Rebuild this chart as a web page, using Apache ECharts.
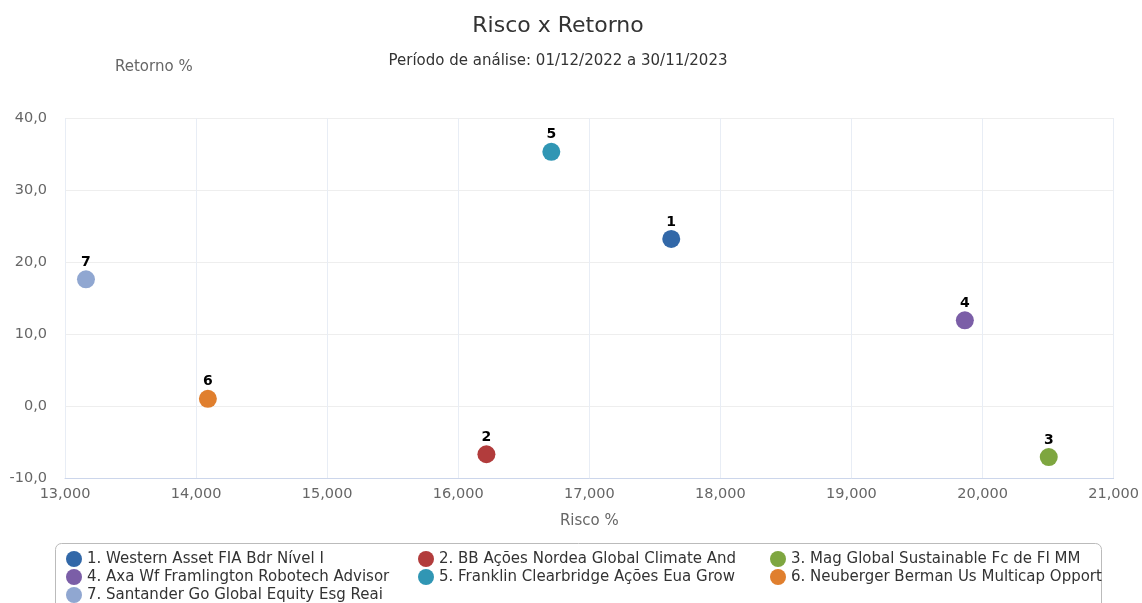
<!DOCTYPE html>
<html>
<head>
<meta charset="utf-8">
<script src="https://cdn.jsdelivr.net/npm/echarts@6/dist/echarts.min.js"></script>
<style>
html,body{margin:0;padding:0;background:#fff;}
#chart{width:1142px;height:603px;}
</style>
</head>
<body>
<div id="chart"></div>
<script>
const fundNames = [
  "1. Western Asset FIA Bdr Nível I",
  "2. BB Ações Nordea Global Climate And",
  "3. Mag Global Sustainable Fc de FI MM",
  "4. Axa Wf Framlington Robotech Advisor",
  "5. Franklin Clearbridge Ações Eua Grow",
  "6. Neuberger Berman Us Multicap Opport",
  "7. Santander Go Global Equity Esg Reai"
];
const pointLabels = ["1", "2", "3", "4", "5", "6", "7"];
const riscoValues = [17625, 16215, 20505, 19865, 16710, 14090, 13160];
const retornoValues = [23.2, -6.7, -7.1, 11.9, 35.3, 1.0, 17.6];
const colors = ["#3268a8", "#b23c3c", "#7ea640", "#7b5ea7", "#3096b4", "#e07f2e", "#90a7d1"];
const xTicks = { min: 13000, max: 21000, interval: 1000 };
const yTicks = { min: -10, max: 40, interval: 10 };

const FONT = "DejaVu Sans";
const chart = echarts.init(document.getElementById('chart'));

const series = fundNames.map((n, i) => ({
  name: n,
  type: 'scatter',
  symbol: 'circle',
  symbolSize: 18,
  itemStyle: { color: colors[i], opacity: 1 },
  label: {
    show: true,
    position: 'top',
    distance: 1,
    formatter: () => pointLabels[i],
    color: '#000',
    fontWeight: 'bold',
    fontSize: 14,
    fontFamily: FONT
  },
  data: [[riscoValues[i], retornoValues[i]]]
}));

chart.setOption({
  animation: false,
  backgroundColor: '#fff',
  title: [
    { text: 'Risco x Retorno', left: 553, textAlign: 'center', top: 10,
      textStyle: { fontFamily: FONT, fontSize: 22, fontWeight: 'normal', color: '#333' } },
    { text: 'Período de análise: 01/12/2022 a 30/11/2023', left: 553, textAlign: 'center', top: 49,
      textStyle: { fontFamily: FONT, fontSize: 15, fontWeight: 'normal', color: '#333' } }
  ],
  graphic: [{
    type: 'rect', silent: true,
    shape: { x: 55.5, y: 543.5, width: 1046, height: 90, r: 6 },
    style: { fill: 'none', stroke: '#bbbbbb', lineWidth: 1 }
  }],
  grid: { left: 65, right: 26, top: 118, bottom: 125, containLabel: false },
  xAxis: {
    type: 'value',
    min: xTicks.min, max: xTicks.max, interval: xTicks.interval,
    name: 'Risco %', nameLocation: 'middle', nameGap: 36,
    nameTextStyle: { fontFamily: FONT, fontSize: 15, color: '#666' },
    axisLine: { show: true, onZero: false, lineStyle: { color: '#ccd6eb' } },
    axisTick: { show: false },
    axisLabel: { fontFamily: FONT, fontSize: 14.5, color: '#666', margin: 9,
      formatter: v => v.toLocaleString('en-US') },
    splitLine: { show: true, lineStyle: { color: '#e8edf5' } }
  },
  yAxis: {
    type: 'value',
    min: yTicks.min, max: yTicks.max, interval: yTicks.interval,
    name: 'Retorno %', nameLocation: 'end', nameGap: 43,
    nameTextStyle: { fontFamily: FONT, fontSize: 15, color: '#666', align: 'left', padding: [0, 0, 0, 50] },
    axisLine: { show: false },
    axisTick: { show: false },
    axisLabel: { fontFamily: FONT, fontSize: 14.5, color: '#666', margin: 18,
      formatter: v => v.toFixed(1).replace('.', ',') },
    splitLine: { show: true, lineStyle: { color: '#eeeeee' } }
  },
  legend: {
    left: 56, top: 551, width: 1070,
    orient: 'horizontal',
    icon: 'circle', itemWidth: 16, itemHeight: 16, itemGap: 2,
    padding: [0, 10, 0, 10],
    formatter: name => '{t|' + name + '}',
    textStyle: { fontFamily: FONT, fontSize: 15, color: '#333',
      rich: { t: { width: 329, fontFamily: FONT, fontSize: 15, color: '#333', lineHeight: 16 } } },
    data: fundNames
  },
  series: series
});
</script>
</body>
</html>
